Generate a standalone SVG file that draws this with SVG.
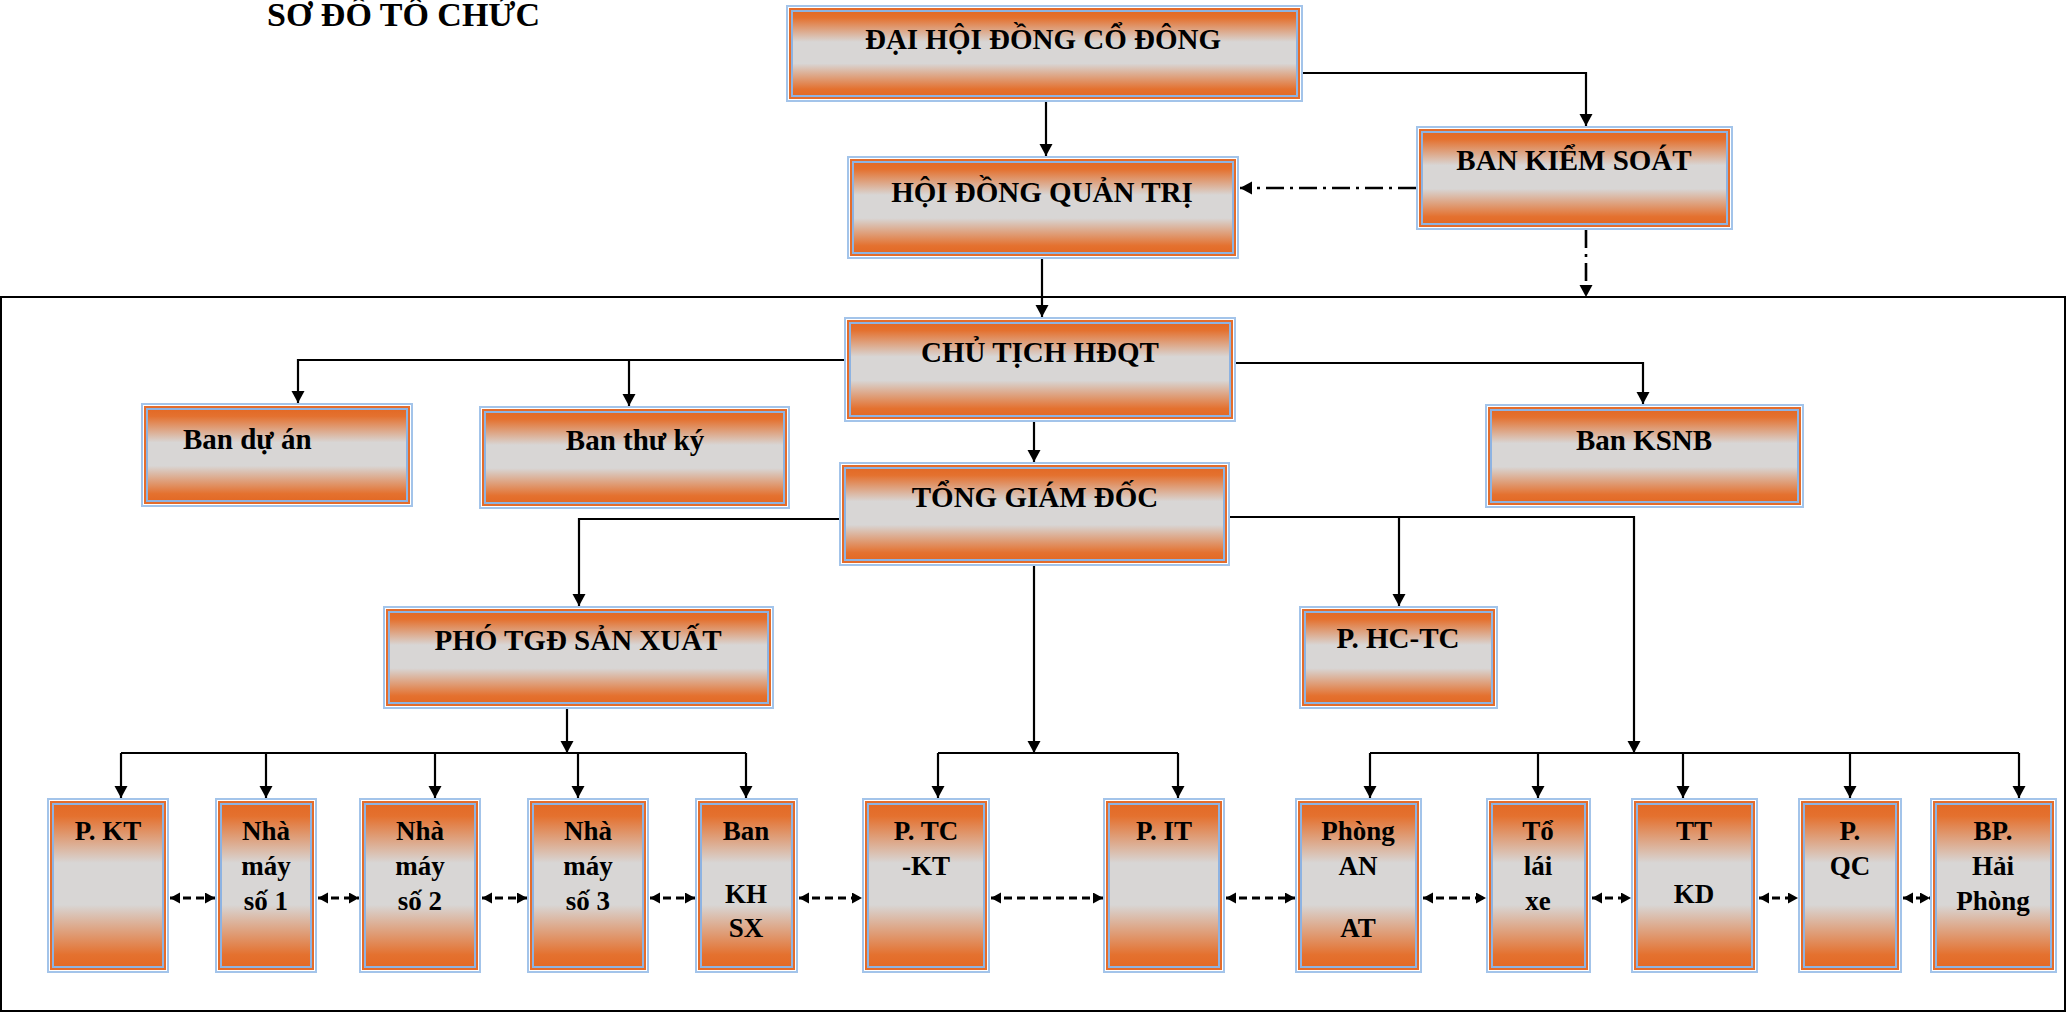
<svg xmlns="http://www.w3.org/2000/svg" width="2067" height="1013" viewBox="0 0 2067 1013">
<style>
.o{fill:#a3c4ea}.w{fill:#ffffff}.r{fill:#e46c2b}.b{fill:#8db3e2}.f{fill:url(#g)}
text{font-family:"Liberation Serif","Times New Roman",serif;font-weight:bold;fill:#000}
.t{font-size:29px;text-anchor:middle}
.s{font-size:27px;text-anchor:middle}
.c path{fill:none;stroke:#000;stroke-width:2.2}
.a{marker-end:url(#ah)}
.d{stroke-dasharray:8 5;stroke-width:3 !important;marker-start:url(#ad);marker-end:url(#ad)}
.dd{stroke-dasharray:18 6 3 6;stroke-width:2.6 !important;marker-end:url(#ah)}
</style>
<defs>
<linearGradient id="g" x1="0" y1="0" x2="0" y2="1">
<stop offset="0" stop-color="#e36a26"/>
<stop offset="0.07" stop-color="#e4712f"/>
<stop offset="0.36" stop-color="#d8d6d5"/>
<stop offset="0.62" stop-color="#d8d6d5"/>
<stop offset="0.93" stop-color="#e4712f"/>
<stop offset="1" stop-color="#e36a26"/>
</linearGradient>
<marker id="ah" markerUnits="userSpaceOnUse" markerWidth="14" markerHeight="14" refX="12" refY="6.5" orient="auto-start-reverse">
<path d="M0,0 L12,6.5 L0,13 z" fill="#000"/>
</marker>
<marker id="ad" markerUnits="userSpaceOnUse" markerWidth="12" markerHeight="12" refX="10" refY="5.5" orient="auto-start-reverse">
<path d="M0,0 L10,5.5 L0,11 z" fill="#000"/>
</marker>
</defs>
<rect x="1" y="297" width="2064" height="714" fill="none" stroke="#000" stroke-width="2"/>
<text x="267" y="26" style="font-size:34px">SƠ ĐỒ TỔ CHỨC</text>

<g id="connectors" class="c">
<path class="a" d="M1046,102 V156"/>
<path class="a" d="M1303,73 H1586 V126"/>
<path class="dd" d="M1416,188 H1240"/>
<path class="dd" d="M1586,230 V297"/>
<path class="a" d="M1042,259 V317"/>
<path class="a" d="M844,360 H298 V403"/>
<path class="a" d="M629,360 V406"/>
<path class="a" d="M1236,363 H1643 V404"/>
<path class="a" d="M1034,422 V462"/>
<path class="a" d="M839,519 H579 V606"/>
<path class="a" d="M1230,517 H1634 V753"/>
<path class="a" d="M1399,517 V606"/>
<path class="a" d="M1034,566 V753"/>
<path class="a" d="M567,709 V753"/>
<path d="M121,753 H746"/>
<path class="a" d="M121,753 V798"/>
<path class="a" d="M266,753 V798"/>
<path class="a" d="M435,753 V798"/>
<path class="a" d="M578,753 V798"/>
<path class="a" d="M746,753 V798"/>
<path d="M938,753 H1178"/>
<path class="a" d="M938,753 V798"/>
<path class="a" d="M1178,753 V798"/>
<path d="M1370,753 H2019"/>
<path class="a" d="M1370,753 V798"/>
<path class="a" d="M1538,753 V798"/>
<path class="a" d="M1683,753 V798"/>
<path class="a" d="M1850,753 V798"/>
<path class="a" d="M2019,753 V798"/>
<path class="d" d="M170,898 H215"/>
<path class="d" d="M318,898 H359"/>
<path class="d" d="M482,898 H527"/>
<path class="d" d="M650,898 H695"/>
<path class="d" d="M799,898 H862"/>
<path class="d" d="M991,898 H1103"/>
<path class="d" d="M1226,898 H1295"/>
<path class="d" d="M1423,898 H1486"/>
<path class="d" d="M1592,898 H1631"/>
<path class="d" d="M1759,898 H1798"/>
<path class="d" d="M1903,898 H1930"/>
</g>

<g id="dhdcd"><rect class="o" x="786" y="5" width="517" height="97"/><rect class="w" x="788" y="7" width="513" height="93"/><rect class="r" x="789" y="8" width="511" height="91"/><rect class="b" x="791" y="10" width="507" height="87"/><rect class="f" x="793" y="12" width="503" height="83"/><text class="t" x="1043" y="49">ĐẠI HỘI ĐỒNG CỔ ĐÔNG</text></g>
<g id="hdqt"><rect class="o" x="847" y="156" width="392" height="103"/><rect class="w" x="849" y="158" width="388" height="99"/><rect class="r" x="850" y="159" width="386" height="97"/><rect class="b" x="852" y="161" width="382" height="93"/><rect class="f" x="854" y="163" width="378" height="89"/><text class="t" x="1042" y="202">HỘI ĐỒNG QUẢN TRỊ</text></g>
<g id="bks"><rect class="o" x="1416" y="126" width="317" height="104"/><rect class="w" x="1418" y="128" width="313" height="100"/><rect class="r" x="1419" y="129" width="311" height="98"/><rect class="b" x="1421" y="131" width="307" height="94"/><rect class="f" x="1423" y="133" width="303" height="90"/><text class="t" x="1574" y="170">BAN KIỂM SOÁT</text></g>
<g id="ct"><rect class="o" x="844" y="317" width="392" height="105"/><rect class="w" x="846" y="319" width="388" height="101"/><rect class="r" x="847" y="320" width="386" height="99"/><rect class="b" x="849" y="322" width="382" height="95"/><rect class="f" x="851" y="324" width="378" height="91"/><text class="t" x="1040" y="362">CHỦ TỊCH HĐQT</text></g>
<g id="banduan"><rect class="o" x="141" y="403" width="272" height="104"/><rect class="w" x="143" y="405" width="268" height="100"/><rect class="r" x="144" y="406" width="266" height="98"/><rect class="b" x="146" y="408" width="262" height="94"/><rect class="f" x="148" y="410" width="258" height="90"/><text x="183" y="449" style="font-size:29px">Ban dự án</text></g>
<g id="banthuky"><rect class="o" x="479" y="406" width="311" height="103"/><rect class="w" x="481" y="408" width="307" height="99"/><rect class="r" x="482" y="409" width="305" height="97"/><rect class="b" x="484" y="411" width="301" height="93"/><rect class="f" x="486" y="413" width="297" height="89"/><text class="t" x="635" y="450">Ban thư ký</text></g>
<g id="ksnb"><rect class="o" x="1485" y="404" width="319" height="104"/><rect class="w" x="1487" y="406" width="315" height="100"/><rect class="r" x="1488" y="407" width="313" height="98"/><rect class="b" x="1490" y="409" width="309" height="94"/><rect class="f" x="1492" y="411" width="305" height="90"/><text class="t" x="1644" y="450">Ban KSNB</text></g>
<g id="tgd"><rect class="o" x="839" y="462" width="391" height="104"/><rect class="w" x="841" y="464" width="387" height="100"/><rect class="r" x="842" y="465" width="385" height="98"/><rect class="b" x="844" y="467" width="381" height="94"/><rect class="f" x="846" y="469" width="377" height="90"/><text class="t" x="1035" y="507">TỔNG GIÁM ĐỐC</text></g>
<g id="pho"><rect class="o" x="383" y="606" width="391" height="103"/><rect class="w" x="385" y="608" width="387" height="99"/><rect class="r" x="386" y="609" width="385" height="97"/><rect class="b" x="388" y="611" width="381" height="93"/><rect class="f" x="390" y="613" width="377" height="89"/><text class="t" x="578" y="650">PHÓ TGĐ SẢN XUẤT</text></g>
<g id="hctc"><rect class="o" x="1299" y="606" width="199" height="103"/><rect class="w" x="1301" y="608" width="195" height="99"/><rect class="r" x="1302" y="609" width="193" height="97"/><rect class="b" x="1304" y="611" width="189" height="93"/><rect class="f" x="1306" y="613" width="185" height="89"/><text class="t" x="1398" y="648">P. HC-TC</text></g>

<g id="pkt"><rect class="o" x="47" y="798" width="122" height="175"/><rect class="w" x="49" y="800" width="118" height="171"/><rect class="r" x="50" y="801" width="116" height="169"/><rect class="b" x="52" y="803" width="112" height="165"/><rect class="f" x="54" y="805" width="108" height="161"/><text class="s" x="108" y="840">P. KT</text></g>
<g id="nm1"><rect class="o" x="215" y="798" width="102" height="175"/><rect class="w" x="217" y="800" width="98" height="171"/><rect class="r" x="218" y="801" width="96" height="169"/><rect class="b" x="220" y="803" width="92" height="165"/><rect class="f" x="222" y="805" width="88" height="161"/><text class="s" x="266" y="840">Nhà</text><text class="s" x="266" y="875">máy</text><text class="s" x="266" y="910">số 1</text></g>
<g id="nm2"><rect class="o" x="359" y="798" width="122" height="175"/><rect class="w" x="361" y="800" width="118" height="171"/><rect class="r" x="362" y="801" width="116" height="169"/><rect class="b" x="364" y="803" width="112" height="165"/><rect class="f" x="366" y="805" width="108" height="161"/><text class="s" x="420" y="840">Nhà</text><text class="s" x="420" y="875">máy</text><text class="s" x="420" y="910">số 2</text></g>
<g id="nm3"><rect class="o" x="527" y="798" width="122" height="175"/><rect class="w" x="529" y="800" width="118" height="171"/><rect class="r" x="530" y="801" width="116" height="169"/><rect class="b" x="532" y="803" width="112" height="165"/><rect class="f" x="534" y="805" width="108" height="161"/><text class="s" x="588" y="840">Nhà</text><text class="s" x="588" y="875">máy</text><text class="s" x="588" y="910">số 3</text></g>
<g id="bankhsx"><rect class="o" x="695" y="798" width="103" height="175"/><rect class="w" x="697" y="800" width="99" height="171"/><rect class="r" x="698" y="801" width="97" height="169"/><rect class="b" x="700" y="803" width="93" height="165"/><rect class="f" x="702" y="805" width="89" height="161"/><text class="s" x="746" y="840">Ban</text><text class="s" x="746" y="903">KH</text><text class="s" x="746" y="937">SX</text></g>
<g id="ptckt"><rect class="o" x="862" y="798" width="128" height="175"/><rect class="w" x="864" y="800" width="124" height="171"/><rect class="r" x="865" y="801" width="122" height="169"/><rect class="b" x="867" y="803" width="118" height="165"/><rect class="f" x="869" y="805" width="114" height="161"/><text class="s" x="926" y="840">P. TC</text><text class="s" x="926" y="875">-KT</text></g>
<g id="pit"><rect class="o" x="1103" y="798" width="122" height="175"/><rect class="w" x="1105" y="800" width="118" height="171"/><rect class="r" x="1106" y="801" width="116" height="169"/><rect class="b" x="1108" y="803" width="112" height="165"/><rect class="f" x="1110" y="805" width="108" height="161"/><text class="s" x="1164" y="840">P. IT</text></g>
<g id="phongat"><rect class="o" x="1295" y="798" width="127" height="175"/><rect class="w" x="1297" y="800" width="123" height="171"/><rect class="r" x="1298" y="801" width="121" height="169"/><rect class="b" x="1300" y="803" width="117" height="165"/><rect class="f" x="1302" y="805" width="113" height="161"/><text class="s" x="1358" y="840">Phòng</text><text class="s" x="1358" y="875">AN</text><text class="s" x="1358" y="937">AT</text></g>
<g id="tolaixe"><rect class="o" x="1486" y="798" width="105" height="175"/><rect class="w" x="1488" y="800" width="101" height="171"/><rect class="r" x="1489" y="801" width="99" height="169"/><rect class="b" x="1491" y="803" width="95" height="165"/><rect class="f" x="1493" y="805" width="91" height="161"/><text class="s" x="1538" y="840">Tổ</text><text class="s" x="1538" y="875">lái</text><text class="s" x="1538" y="910">xe</text></g>
<g id="ttkd"><rect class="o" x="1631" y="798" width="127" height="175"/><rect class="w" x="1633" y="800" width="123" height="171"/><rect class="r" x="1634" y="801" width="121" height="169"/><rect class="b" x="1636" y="803" width="117" height="165"/><rect class="f" x="1638" y="805" width="113" height="161"/><text class="s" x="1694" y="840">TT</text><text class="s" x="1694" y="903">KD</text></g>
<g id="pqc"><rect class="o" x="1798" y="798" width="104" height="175"/><rect class="w" x="1800" y="800" width="100" height="171"/><rect class="r" x="1801" y="801" width="98" height="169"/><rect class="b" x="1803" y="803" width="94" height="165"/><rect class="f" x="1805" y="805" width="90" height="161"/><text class="s" x="1850" y="840">P.</text><text class="s" x="1850" y="875">QC</text></g>
<g id="bphp"><rect class="o" x="1930" y="798" width="127" height="175"/><rect class="w" x="1932" y="800" width="123" height="171"/><rect class="r" x="1933" y="801" width="121" height="169"/><rect class="b" x="1935" y="803" width="117" height="165"/><rect class="f" x="1937" y="805" width="113" height="161"/><text class="s" x="1993" y="840">BP.</text><text class="s" x="1993" y="875">Hải</text><text class="s" x="1993" y="910">Phòng</text></g>
</svg>
